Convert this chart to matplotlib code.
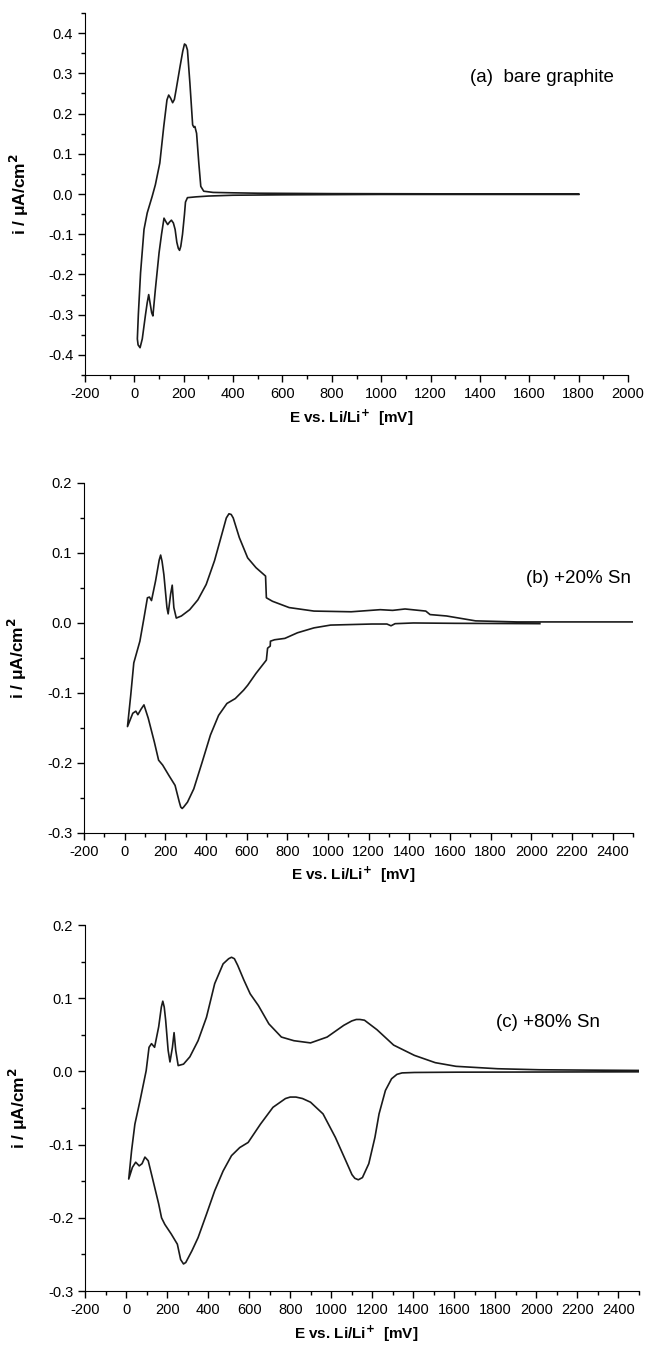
import matplotlib
matplotlib.use("Agg")
import matplotlib.pyplot as plt
from matplotlib.ticker import MultipleLocator

plt.rcParams['font.family'] = ['Liberation Sans', 'DejaVu Sans']
plt.rcParams['axes.unicode_minus'] = False

# (a) bare graphite - one CV cycle, cathodic scan then anodic scan
a_E = [1800, 1000, 600, 400, 300, 250, 215, 207, 203, 195, 188, 183, 178, 172, 165, 158, 150, 142, 135, 127, 120,
       110, 100, 85, 75, 70, 66, 58, 52, 45, 32, 23, 15, 12,
       16, 25, 39, 52, 72, 85, 103, 119, 132, 139, 147, 155, 162, 169, 185, 196, 203, 209, 215, 225,
       236, 241, 245, 252, 261, 269, 281, 319, 400, 500, 800, 1200, 1800]
a_i = [-0.001, -0.001, -0.002, -0.003, -0.005, -0.007, -0.009, -0.02, -0.05, -0.10, -0.13, -0.14, -0.135, -0.12, -0.088, -0.072, -0.065, -0.07, -0.076, -0.068, -0.06,
       -0.10, -0.146, -0.237, -0.303, -0.295, -0.28, -0.25, -0.27, -0.30, -0.36, -0.382, -0.375, -0.36,
       -0.30, -0.196, -0.088, -0.047, -0.006, 0.023, 0.077, 0.168, 0.234, 0.246, 0.238, 0.227, 0.235, 0.259, 0.317, 0.355, 0.373, 0.370, 0.358, 0.275,
       0.172, 0.166, 0.168, 0.151, 0.077, 0.019, 0.007, 0.004, 0.003, 0.002, 0.001, 0.0005, 0.0]

# (b) +20% Sn
b_E = [2042, 1624, 1420, 1330, 1310, 1290, 1216, 1013, 931, 850, 788, 737, 717, 716, 703, 697, 646, 605, 585,
       544, 503, 462, 422, 381, 340, 309, 290, 283, 276, 269, 248, 218, 187, 167, 146, 116, 95, 81, 65, 55, 40, 14,
       30, 45, 75, 95, 112, 122, 132, 152, 170, 177, 184, 193, 208, 214, 226, 234, 242, 254, 279, 320, 360, 401,
       442, 483, 500, 513, 524, 534, 564, 605, 646, 693, 697, 727, 809, 931, 1114, 1257, 1318, 1379, 1481, 1502,
       1583, 1726, 1930, 2235, 2500]
b_i = [-0.001, -0.0005, 0.0, -0.001, -0.004, -0.0015, -0.0015, -0.003, -0.007, -0.014, -0.022, -0.024, -0.026, -0.033, -0.036, -0.053, -0.072, -0.089, -0.096,
       -0.108, -0.115, -0.132, -0.160, -0.199, -0.237, -0.256, -0.263, -0.265, -0.263, -0.256, -0.232, -0.218, -0.203, -0.196, -0.170, -0.136, -0.117, -0.123, -0.131, -0.126, -0.129, -0.148,
       -0.103, -0.057, -0.026, 0.007, 0.036, 0.037, 0.032, 0.060, 0.090, 0.097, 0.088, 0.069, 0.022, 0.013, 0.041, 0.054, 0.022, 0.007, 0.010, 0.019, 0.033, 0.055,
       0.089, 0.132, 0.150, 0.156, 0.155, 0.150, 0.122, 0.093, 0.079, 0.067, 0.036, 0.031, 0.022, 0.017, 0.016, 0.019, 0.018, 0.020, 0.017, 0.012,
       0.010, 0.003, 0.0015, 0.0015, 0.0015]

# (c) +80% Sn
c_E = [2500, 1608, 1405, 1345, 1320, 1294, 1264, 1233, 1213, 1183, 1152, 1132, 1115, 1101, 1071, 1020, 960, 899, 860, 828, 800, 777, 716,
       655, 595, 554, 514, 473, 432, 392, 351, 321, 291, 280, 266, 250, 220, 189, 173, 159, 128, 108, 92, 78, 64, 47, 31, 13,
       27, 43, 68, 98, 112, 124, 139, 159, 172, 179, 186, 193, 205, 214, 226, 234, 242, 254, 280, 311, 351, 392, 432, 473, 500, 514,
       528, 544, 574, 605, 645, 696, 757, 818, 899, 980, 1061, 1100, 1122, 1140, 1162, 1223, 1304, 1405, 1507, 1608, 1811, 2014, 2257, 2500]
c_i = [-0.0005, -0.001, -0.0014, -0.002, -0.004, -0.010, -0.026, -0.058, -0.090, -0.126, -0.145, -0.148, -0.146, -0.141, -0.122, -0.090, -0.058, -0.042, -0.037, -0.035, -0.035, -0.037, -0.049,
       -0.072, -0.097, -0.104, -0.115, -0.136, -0.163, -0.195, -0.227, -0.245, -0.261, -0.263, -0.257, -0.236, -0.222, -0.209, -0.200, -0.181, -0.145, -0.122, -0.117, -0.126, -0.129, -0.124, -0.131, -0.147,
       -0.108, -0.072, -0.040, 0.001, 0.033, 0.038, 0.033, 0.061, 0.088, 0.096, 0.088, 0.070, 0.029, 0.013, 0.033, 0.053, 0.029, 0.008, 0.010, 0.020, 0.042, 0.074, 0.120, 0.147, 0.154, 0.156,
       0.154, 0.145, 0.125, 0.106, 0.090, 0.065, 0.047, 0.042, 0.039, 0.047, 0.063, 0.069, 0.071, 0.071, 0.070, 0.057, 0.036, 0.022, 0.012, 0.007, 0.0037, 0.0023, 0.0018, 0.0014]

panels = [
    (a_E, a_i, "(a)  bare graphite", (-200, 2000), (-0.45, 0.45), (1360, 0.29)),
    (b_E, b_i, "(b) +20% Sn", (-200, 2500), (-0.3, 0.2), (1975, 0.064)),
    (c_E, c_i, "(c) +80% Sn", (-200, 2500), (-0.3, 0.2), (1805, 0.067)),
]
rects = [
    [0.1308, 0.7230, 0.8354, 0.2674],
    [0.1292, 0.3848, 0.8446, 0.2585],
    [0.1308, 0.0465, 0.8523, 0.2703],
]

fig = plt.figure(figsize=(6.5, 13.54), dpi=100)
for (E, i, label, xlim, ylim, txt), rect in zip(panels, rects):
    ax = fig.add_axes(rect)
    ax.plot(E, i, color="#1a1a1a", lw=1.2)
    ax.set_xlim(*xlim)
    ax.set_ylim(*ylim)
    ax.xaxis.set_major_locator(MultipleLocator(200))
    ax.xaxis.set_minor_locator(MultipleLocator(100))
    ax.yaxis.set_major_locator(MultipleLocator(0.1))
    ax.yaxis.set_minor_locator(MultipleLocator(0.05))
    ax.yaxis.set_major_formatter(plt.FuncFormatter(lambda v, p: f"{v:.1f}".replace("-0.0", "0.0")))
    ax.spines["top"].set_visible(False)
    ax.spines["right"].set_visible(False)
    ax.tick_params(which="major", direction="out", length=5, width=1, labelsize=10.5)
    ax.tick_params(which="minor", direction="out", length=3, width=1)
    ax.set_xlabel(r"E vs. Li/Li$^\mathbf{+}$  [mV]", fontsize=11, fontweight="bold")
    ax.set_ylabel(r"i / μA/cm$^\mathbf{2}$", fontsize=12.5, fontweight="bold")
    ax.xaxis.set_label_coords(0.49, -0.09)
    ax.yaxis.set_label_coords(-0.10, 0.5)
    ax.text(txt[0], txt[1], label, fontsize=13.5, va="center")

fig.savefig("out.png", dpi=100)
